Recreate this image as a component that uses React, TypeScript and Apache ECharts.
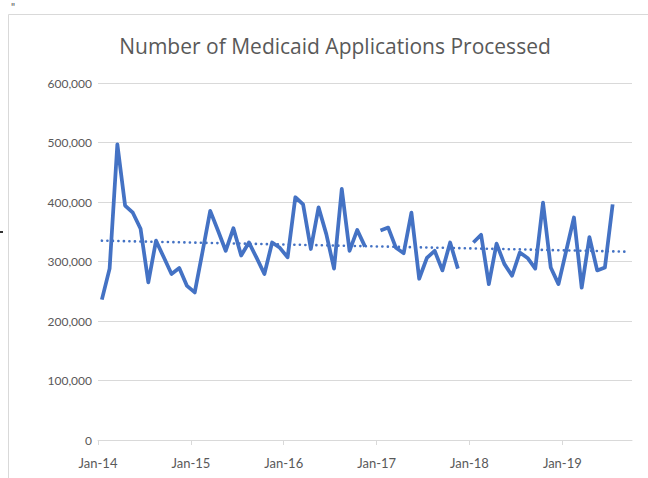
import React, { useEffect, useRef } from "react";
import * as echarts from "echarts";

// Monthly counts of Medicaid applications processed (null = month not reported)
const apps2014 = [236000, 288000, 497000, 394000, 382000, 355000, 265000, 335000, 307000, 279000, 289000, 259000];
const apps2015 = [248000, 316000, 385000, 352000, 318000, 356000, 310000, 332000, 306000, 279000, 332000, 323000];
const apps2016 = [307000, 408000, 396000, 321000, 391000, 346000, 288000, 422000, 318000, 353000, 325000, null];
const apps2017 = [352000, 357000, 323000, 314000, 382000, 271000, 306000, 318000, 285000, 332000, 288000, null];
const apps2018 = [332000, 345000, 262000, 330000, 296000, 276000, 315000, 306000, 288000, 399000, 290000, 262000];
const apps2019 = [318000, 374000, 256000, 341000, 285000, 290000, 396000, null, null];

// Linear trend: value at the first and at the last month of the axis
const trendValues = [335000, 316500];

const tickLabels = ["Jan-14", "Jan-15", "Jan-16", "Jan-17", "Jan-18", "Jan-19"];
const yTicks = [0, 100000, 200000, 300000, 400000, 500000, 600000];

const monthly = [...apps2014, ...apps2015, ...apps2016, ...apps2017, ...apps2018, ...apps2019];
const monthCount = monthly.length;

const FONT = "Lato, 'Open Sans', sans-serif";
const TITLE_FONT = "'Open Sans', Lato, sans-serif";
const TEXT = "#595959";
const BLUE = "#4472C4";

export default function App() {
  const ref = useRef<HTMLDivElement>(null);

  useEffect(() => {
    if (!ref.current) return;
    const chart = echarts.init(ref.current, undefined, { renderer: "svg" });

    // each month sits in the middle of its slot on the date axis
    const lineData = monthly.map((v, i) => [i + 0.5, v]);
    const trendData = [
      [0.5, trendValues[0]],
      [monthCount - 0.5, trendValues[1]],
    ];

    chart.setOption({
      animation: false,
      backgroundColor: "#ffffff",
      textStyle: { fontFamily: FONT },
      title: {
        text: "Number of Medicaid Applications Processed",
        left: 330,
        textAlign: "center",
        top: 30,
        textStyle: { fontFamily: TITLE_FONT, fontSize: 21, fontWeight: "normal", color: TEXT },
      },
      grid: { left: 98, right: 16, top: 83, bottom: 38, containLabel: false },
      xAxis: {
        type: "value",
        min: 0,
        max: monthCount,
        interval: 12,
        splitLine: { show: false },
        axisLine: { show: true, lineStyle: { color: "#d9d9d9", width: 1 } },
        axisTick: {
          show: true,
          length: 5,
          customValues: tickLabels.map((_, k) => k * 12),
          lineStyle: { color: "#d9d9d9" },
        },
        axisLabel: {
          customValues: tickLabels.map((_, k) => k * 12),
          formatter: (v: number) => tickLabels[Math.round(v / 12)] ?? "",
          color: TEXT,
          fontFamily: FONT,
          fontSize: 13,
          margin: 16,
        },
      },
      yAxis: {
        type: "value",
        min: yTicks[0],
        max: yTicks[yTicks.length - 1],
        interval: yTicks[1] - yTicks[0],
        axisLine: { show: false },
        axisTick: { show: false },
        splitLine: { lineStyle: { color: "#d9d9d9", width: 1 } },
        axisLabel: {
          formatter: (v: number) => v.toLocaleString("en-US"),
          color: TEXT,
          fontFamily: FONT,
          fontSize: 12,
          margin: 6,
        },
      },
      series: [
        {
          type: "line",
          data: lineData,
          showSymbol: false,
          connectNulls: false,
          lineStyle: { color: BLUE, width: 3.75, join: "round" },
          z: 3,
        },
        {
          type: "line",
          data: trendData,
          showSymbol: false,
          lineStyle: { color: BLUE, width: 2.6, type: [0.1, 5.4], cap: "round" },
          z: 2,
        },
      ],
      graphic: [
        {
          type: "rect",
          shape: { x: 8.5, y: 14.5, width: 660, height: 480 },
          style: { fill: "none", stroke: "#d9d9d9", lineWidth: 1 },
          silent: true,
        },
        {
          type: "text",
          left: 11,
          top: 1,
          style: { text: "\"", fill: "#555", fontSize: 11, fontFamily: FONT },
        },
        {
          type: "rect",
          shape: { x: 0, y: 231, width: 3, height: 2 },
          style: { fill: "#333" },
        },
      ],
    });

    return () => chart.dispose();
  }, []);

  return (
    <div
      ref={ref}
      style={{ position: "absolute", left: 0, top: 0, width: 648, height: 478 }}
    />
  );
}
